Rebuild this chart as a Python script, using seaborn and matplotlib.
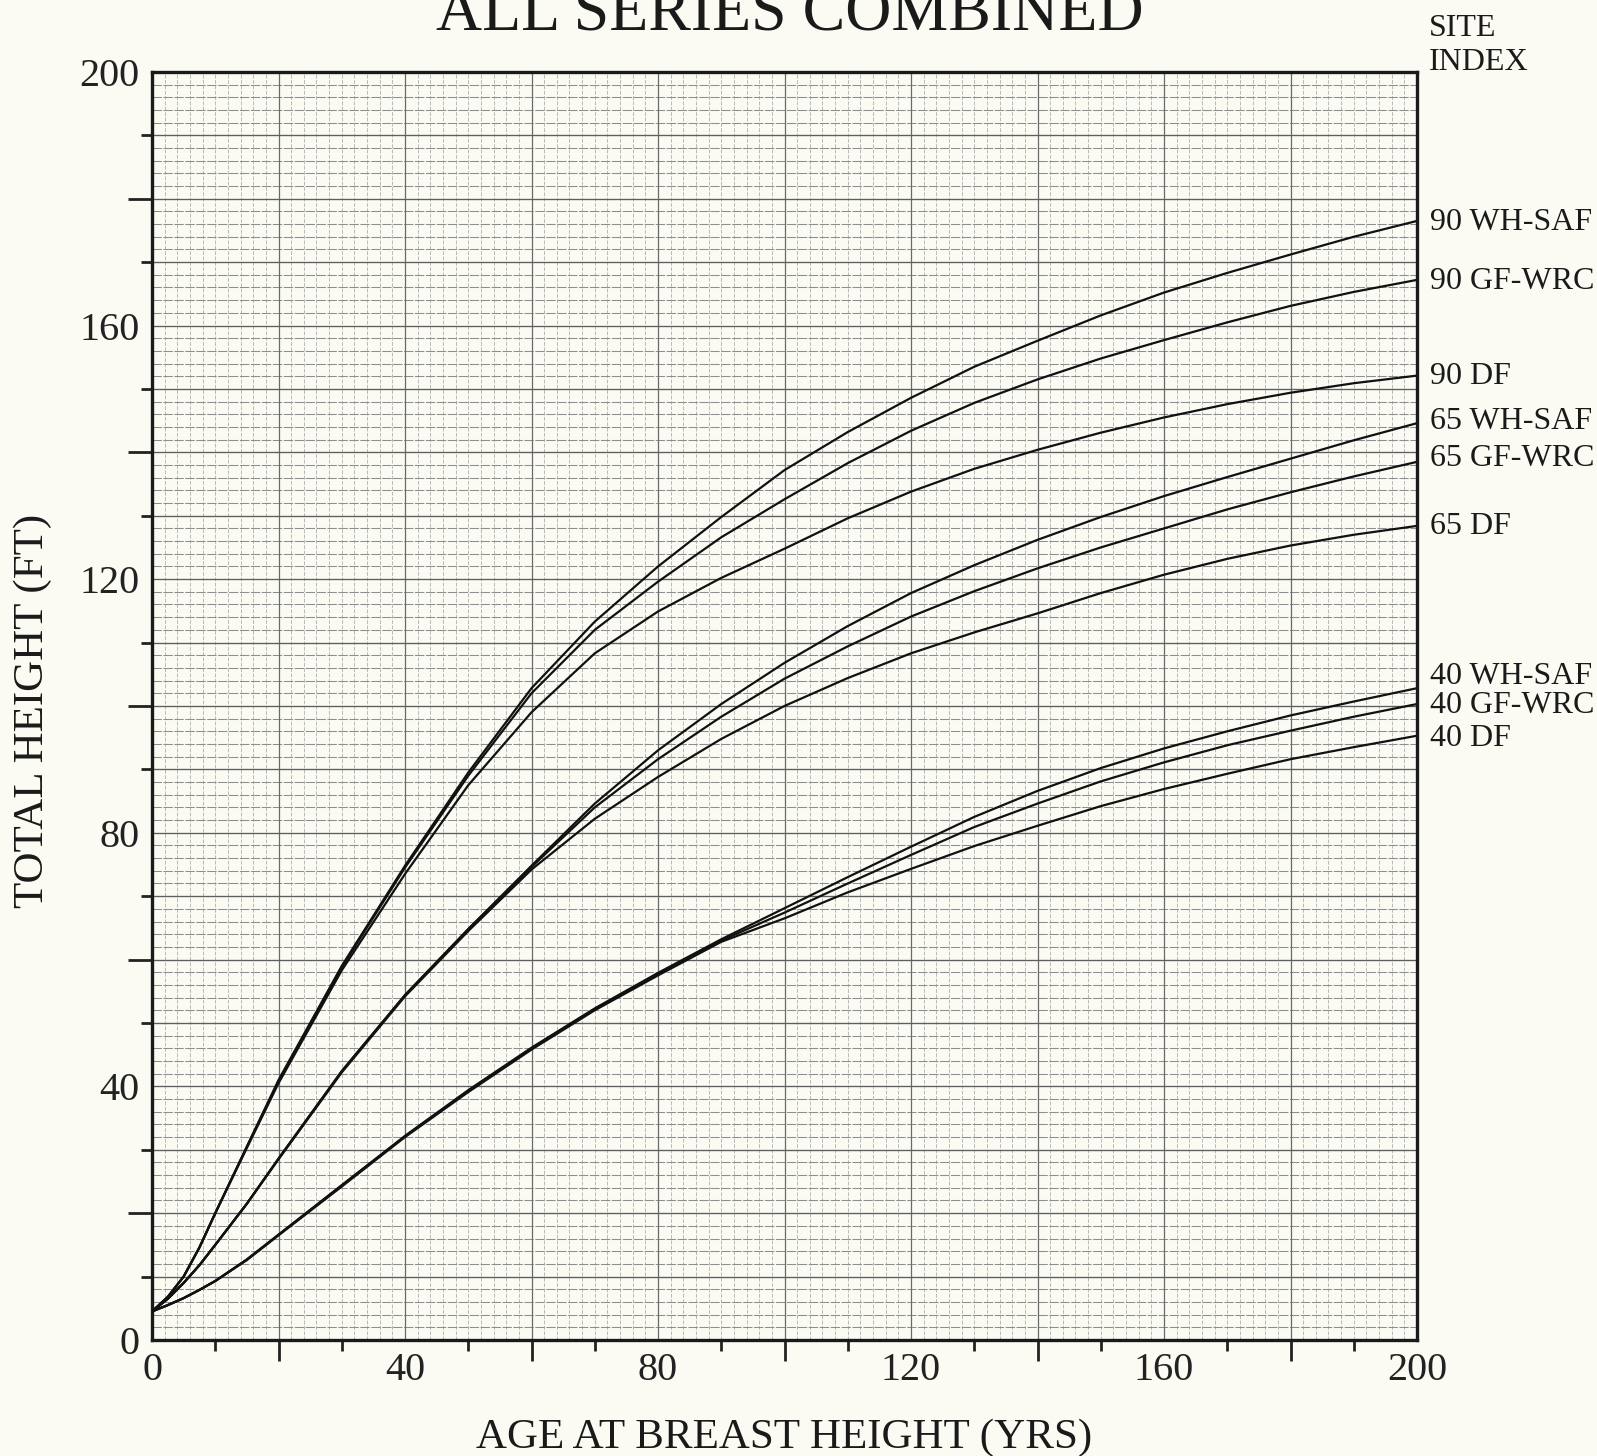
import numpy as np
import pandas as pd
import matplotlib
matplotlib.use("Agg")
import matplotlib.pyplot as plt
import seaborn as sns
from matplotlib.ticker import MultipleLocator, FixedLocator

# ---------------- data ----------------
AGES = [0, 2.5, 5, 7.5, 10, 15, 20, 30, 40, 50, 60, 70, 80, 90, 100, 110, 120, 130, 140, 150, 160, 170, 180, 190, 200]

h90_whsaf = [4.5, 6.8, 10, 14.6, 20, 30.5, 41, 59, 74.8, 89.5, 102.8, 113.3, 122, 129.8, 137.2, 143.2, 148.6, 153.5, 157.6, 161.6, 165.2, 168.3, 171.2, 174, 176.5]
h90_gfwrc = [4.5, 6.8, 10, 14.6, 20, 30.5, 40.8, 58.8, 74.5, 89, 102, 112, 119.6, 126.6, 132.6, 138.3, 143.4, 147.8, 151.5, 154.8, 157.7, 160.5, 163.1, 165.3, 167.2]
h90_df = [4.5, 6.8, 10, 14.6, 20, 30.3, 40.5, 58.3, 73.5, 87.5, 99, 108.3, 114.9, 120.2, 124.8, 129.6, 133.8, 137.4, 140.4, 143.1, 145.5, 147.6, 149.4, 150.9, 152.1]

h65_whsaf = [4.5, 6.5, 9, 11.8, 15, 21.5, 28.6, 42.4, 54.4, 64.8, 74.8, 84.6, 93, 100.3, 106.8, 112.6, 117.8, 122.2, 126.2, 129.8, 133.1, 136.1, 139, 141.9, 144.6]
h65_gfwrc = [4.5, 6.5, 9, 11.8, 15, 21.5, 28.6, 42.4, 54.4, 64.8, 74.6, 84, 91.6, 98.3, 104.3, 109.4, 114.1, 118.1, 121.7, 125, 128, 131, 133.7, 136.2, 138.5]
h65_df = [4.5, 6.5, 9, 11.8, 15, 21.5, 28.5, 42.2, 54.2, 64.5, 74.2, 82.2, 88.8, 94.8, 100, 104.4, 108.3, 111.6, 114.6, 117.8, 120.7, 123.2, 125.3, 127, 128.4]

h40_whsaf = [4.5, 5.5, 6.6, 7.9, 9.3, 12.7, 16.6, 24.4, 32.2, 39.4, 46.1, 52.3, 57.9, 63.2, 68.1, 73, 77.8, 82.5, 86.6, 90.2, 93.3, 96, 98.5, 100.7, 102.8]
h40_gfwrc = [4.5, 5.5, 6.6, 7.9, 9.3, 12.7, 16.6, 24.4, 32.1, 39.3, 46, 52.2, 57.7, 63, 67.4, 72, 76.5, 80.9, 84.6, 88.1, 91.1, 93.8, 96.1, 98.3, 100.3]
h40_df = [4.5, 5.5, 6.6, 7.9, 9.3, 12.6, 16.5, 24.2, 32, 39.1, 45.8, 52, 57.5, 62.8, 66.5, 70.6, 74.3, 77.9, 81.1, 84.2, 86.9, 89.3, 91.6, 93.5, 95.3]

SERIES = ["90 WH-SAF", "90 GF-WRC", "90 DF",
          "65 WH-SAF", "65 GF-WRC", "65 DF",
          "40 WH-SAF", "40 GF-WRC", "40 DF"]
VALUES = [h90_whsaf, h90_gfwrc, h90_df,
          h65_whsaf, h65_gfwrc, h65_df,
          h40_whsaf, h40_gfwrc, h40_df]
LABEL_Y = [176.2, 166.9, 152.0, 144.8, 139.1, 128.3, 104.7, 100.0, 94.9]

X_TICKS = [0, 40, 80, 120, 160, 200]
Y_TICKS = [0, 40, 80, 120, 160, 200]

# ---------------- style ----------------
sns.set_theme(style="white")
plt.rcParams["font.family"] = ["Liberation Serif", "DejaVu Serif"]
BG = "#fbfbf4"
INK = "#1a1a1a"

fig = plt.figure(figsize=(15.97, 14.56), dpi=100, facecolor=BG)
ax = fig.add_axes([0.0952, 0.0797, 0.7921, 0.8709])
ax.set_facecolor(BG)

df = pd.DataFrame({
    "age": np.tile(AGES, len(SERIES)),
    "height": np.concatenate([np.asarray(v, float) for v in VALUES]),
    "series": np.repeat(SERIES, len(AGES)),
})

sns.lineplot(data=df, x="age", y="height", hue="series",
             palette={s: "#111111" for s in SERIES}, linewidth=1.6,
             legend=False, ax=ax, estimator=None, sort=True, zorder=5)

ax.set_xlim(0, 200)
ax.set_ylim(0, 200)

# graph-paper grid
ax.xaxis.set_minor_locator(MultipleLocator(2))
ax.yaxis.set_minor_locator(MultipleLocator(2))
ax.grid(which="minor", axis="x", color="#a8a8a8", linewidth=0.55, linestyle=(0, (5, 2)))
ax.grid(which="minor", axis="y", color="#8e8e8e", linewidth=0.75, linestyle=(0, (9, 1.5)))
ax.set_axisbelow(True)
for xv in range(20, 200, 20):
    ax.axvline(xv, color="#6a6a6a", linewidth=0.9, zorder=1)
for yv in range(10, 200, 10):
    ax.axhline(yv, color="#5e5e5e", linewidth=0.95, zorder=1)

# ticks
ax.xaxis.set_major_locator(FixedLocator(X_TICKS))
ax.yaxis.set_major_locator(FixedLocator(Y_TICKS))
ax.tick_params(axis="both", which="major", direction="out", length=7, width=2.2,
               color="#222222", labelsize=29, labelcolor="#222222", pad=2)
ax.tick_params(axis="both", which="minor", length=0)
ax.grid(which="major", visible=False)

secx = ax.secondary_xaxis("bottom")
secx.set_xticks([10, 30, 50, 70, 90, 110, 130, 150, 170, 190])
secx.tick_params(length=8, width=2, color="#222222", labelbottom=False)
secx.spines["bottom"].set_visible(False)
secx2 = ax.secondary_xaxis("bottom")
secx2.set_xticks([20, 60, 100, 140, 180])
secx2.tick_params(length=15, width=2, color="#222222", labelbottom=False)
secx2.spines["bottom"].set_visible(False)

secy = ax.secondary_yaxis("left")
secy.set_yticks([10, 30, 50, 70, 90, 110, 130, 150, 170, 190])
secy.tick_params(length=8, width=2, color="#222222", labelleft=False)
secy.spines["left"].set_visible(False)
secy2 = ax.secondary_yaxis("left")
secy2.set_yticks([20, 60, 100, 140, 180])
secy2.tick_params(length=17, width=2, color="#222222", labelleft=False)
secy2.spines["left"].set_visible(False)

for sp in ax.spines.values():
    sp.set_visible(True)
    sp.set_color(INK)
    sp.set_linewidth(2.4)

ax.set_xlabel("AGE AT BREAST HEIGHT (YRS)", fontsize=31, color=INK)
ax.xaxis.set_label_coords(0.5, -0.077)
ax.xaxis.label.set_va("center")
ax.set_ylabel("TOTAL HEIGHT (FT)", fontsize=31, color=INK)
ax.yaxis.set_label_coords(-0.094, 0.496)
ax.yaxis.label.set_va("center")

# right-hand site index labels
for name, ly in zip(SERIES, LABEL_Y):
    ax.text(202, ly, name, fontsize=23, color=INK, va="center", ha="left",
            clip_on=False)
fig.text(1429 / 1597, 1 - 28 / 1456, "SITE", fontsize=23, color=INK,
         va="center", ha="left")
fig.text(1429 / 1597, 1 - 62 / 1456, "INDEX", fontsize=23, color=INK,
         va="center", ha="left")

# title (partly cut off at top, as in the scan)
fig.text(790 / 1597, 1 - 30 / 1456, "ALL SERIES COMBINED", fontsize=46,
         color=INK, va="baseline", ha="center")

fig.savefig("out.png", dpi=100, facecolor=BG)
